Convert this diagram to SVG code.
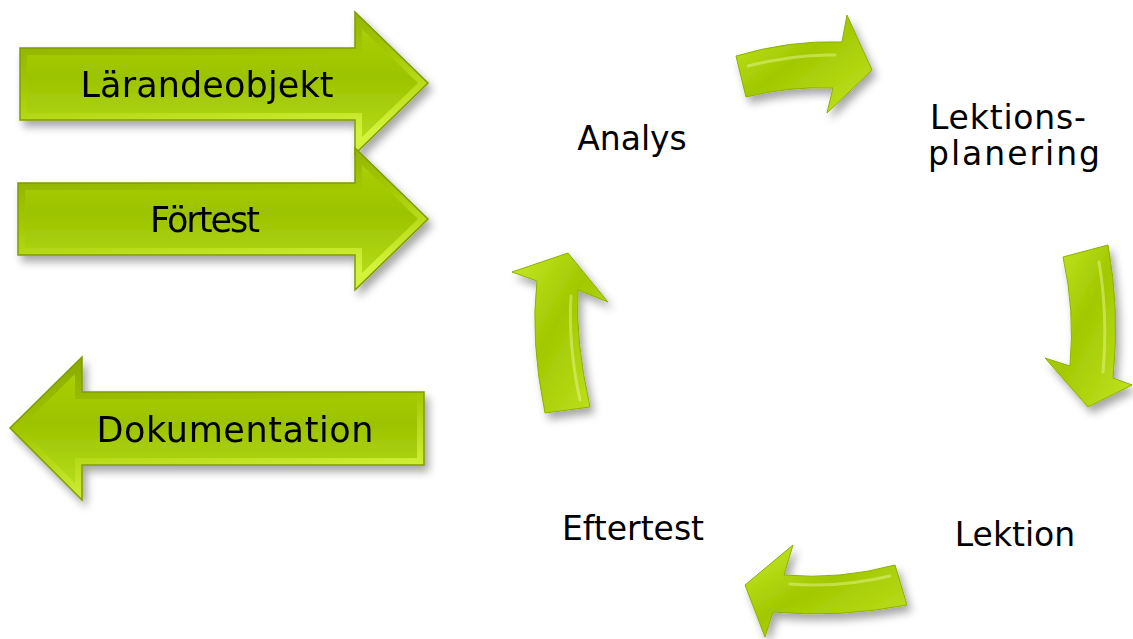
<svg xmlns="http://www.w3.org/2000/svg" width="1133" height="639" viewBox="0 0 1133 639">
<defs>
<style>
.lbl{font-family:"DejaVu Sans","Liberation Sans",Arial,sans-serif;fill:#000;}
.big{font-size:35px;}
.cyc{font-size:33px;}
.outer{fill:url(#edge);stroke:#7f9c00;stroke-width:1.5;}
.inner{fill:url(#face);}
.curve{fill:url(#cface);stroke:#8db000;stroke-width:1;}
.gloss{fill:none;stroke:#f4ffb0;stroke-opacity:0.4;stroke-width:3;stroke-linecap:round;}
</style>
<linearGradient id="edge" x1="0" y1="0" x2="0.3" y2="1">
<stop offset="0" stop-color="#87a600"/>
<stop offset="0.5" stop-color="#a4c800"/>
<stop offset="1" stop-color="#d2f23a"/>
</linearGradient>
<linearGradient id="face" x1="0" y1="0" x2="0" y2="1">
<stop offset="0" stop-color="#aacf08"/>
<stop offset="0.45" stop-color="#9cc300"/>
<stop offset="1" stop-color="#b4db18"/>
</linearGradient>
<linearGradient id="cface" x1="0" y1="0" x2="1" y2="1">
<stop offset="0" stop-color="#c6ea26"/>
<stop offset="0.45" stop-color="#a2c800"/>
<stop offset="1" stop-color="#c2e422"/>
</linearGradient>
<filter id="sh" x="-20%" y="-20%" width="140%" height="150%">
<feDropShadow dx="4" dy="6" stdDeviation="4" flood-color="#000" flood-opacity="0.35"/>
</filter>
</defs>
<rect width="1133" height="639" fill="#fff"/>

<g id="node-larandeobjekt" filter="url(#sh)">
<path class="outer" d="M20,48 H355 V12 L428,83 L355,154 V120 H20 Z"/>
<path class="inner" d="M27,55 H362 V29 L418,83 L362,137 V113 H27 Z"/>
<text class="lbl big" x="207" y="97" text-anchor="middle" textLength="253">Lärandeobjekt</text>
</g>

<g id="node-fortest" filter="url(#sh)">
<path class="outer" d="M18,183 H355 V148 L428,219 L355,290 V255 H18 Z"/>
<path class="inner" d="M25,190 H362 V165 L418,219 L362,273 V248 H25 Z"/>
<text class="lbl big" x="205" y="232" text-anchor="middle" textLength="110">Förtest</text>
</g>

<g id="node-dokumentation" filter="url(#sh)">
<path class="outer" d="M424,392 V465 H82 V500 L10,428 L82,357 V392 Z"/>
<path class="inner" d="M417,399 V458 H75 V483 L20,428 L75,374 V399 Z"/>
<text class="lbl big" x="235" y="442" text-anchor="middle" textLength="277">Dokumentation</text>
</g>

<g id="node-analys"><text class="lbl cyc" x="632" y="150" text-anchor="middle">Analys</text></g>
<g id="node-lektionsplanering">
<text class="lbl cyc" x="1008" y="129" text-anchor="middle" font-size="31" textLength="156">Lektions-</text>
<text class="lbl cyc" x="1014" y="165" text-anchor="middle" font-size="31" textLength="172">planering</text>
</g>
<g id="node-lektion"><text class="lbl cyc" x="1015" y="546" text-anchor="middle">Lektion</text></g>
<g id="node-eftertest"><text class="lbl cyc" x="633" y="540" text-anchor="middle">Eftertest</text></g>

<g id="connectors" filter="url(#sh)">
<path class="curve" d="M736,56 Q790,40 842,42 L847,15 L872,70 L827,113 L833,88 Q790,86 746,97 Z"/>
<path class="gloss" d="M748,66 Q795,54 835,55"/>
<path class="curve" d="M1063,257 L1108,245 Q1120,310 1113,378 L1132,385 L1088,407 L1045,358 L1070,366 Q1075,310 1063,257 Z"/>
<path class="gloss" d="M1099,262 Q1108,315 1103,372"/>
<path class="curve" d="M907,605 Q840,618 773,612 L765,637 L745,585 L793,545 L784,575 Q840,580 895,565 Z"/>
<path class="gloss" d="M890,576 Q840,588 790,584"/>
<path class="curve" d="M545,413 Q530,340 537,281 L512,272 L568,253 L608,302 L578,290 Q575,340 590,407 Z"/>
<path class="gloss" d="M571,296 Q568,345 580,400"/>
</g>
</svg>
